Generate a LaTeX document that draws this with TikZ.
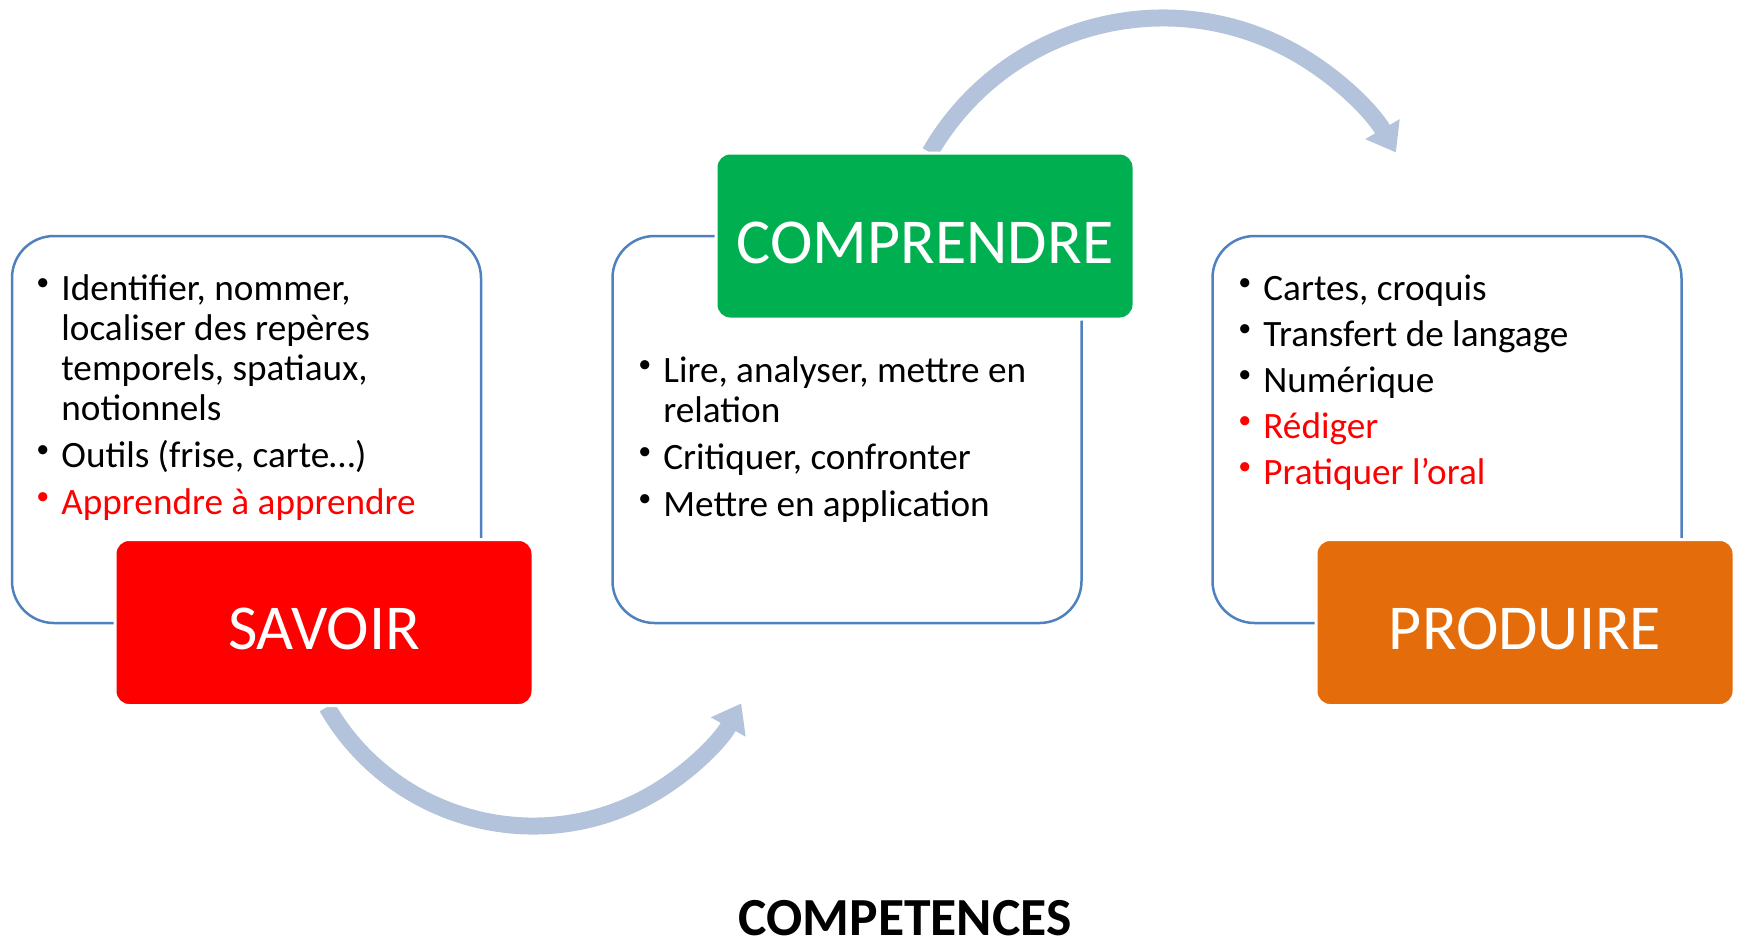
\documentclass[tikz,border=0pt]{standalone}
\usepackage{fontspec}
\setmainfont{Carlito}
\usetikzlibrary{arrows.meta}
\definecolor{boxblue}{HTML}{4F81BD}
\definecolor{arrowgrey}{HTML}{B4C3DC}
\definecolor{savoirred}{HTML}{FF0000}
\definecolor{compgreen}{HTML}{00B050}
\definecolor{prodorange}{HTML}{E46C0A}
\newcommand{\bul}{\leavevmode\llap{\raisebox{5pt}{\fontsize{13}{13}\selectfont •}\hspace{6pt}}}
\begin{document}
\begin{tikzpicture}[x=0.5pt,y=-0.5pt,
  outlinebox/.style={draw=boxblue, line width=1.25pt, rounded corners=21pt, fill=white, minimum width=234.5pt, minimum height=193.5pt, inner sep=0pt},
  labelbox/.style={draw=white, line width=1.5pt, rounded corners=7pt, minimum width=209pt, minimum height=83pt, inner sep=0pt, text=white, font=\fontsize{32}{38}\selectfont, text height=27pt, text depth=0pt},
  listtext/.style={anchor=base west, inner sep=0pt, font=\fontsize{18.6}{20}\selectfont},
  cyclearrow/.style={draw=arrowgrey, line width=8.5pt, -{Triangle[width=19pt,length=13.5pt]}}]
\useasboundingbox (0,0) rectangle (1737,950);

% curved arrows (behind the boxes)
\coordinate (toparcstart) at (930,152.5);
\draw[cyclearrow] (toparcstart) arc[start angle=210, end angle=330, radius=269];
\coordinate (botarcstart) at (327,707);
\draw[cyclearrow] (botarcstart) arc[start angle=150, end angle=29, radius=238];

% outline boxes
\node[outlinebox] (savoirbox) at (246.5,429.5) {};
\node[outlinebox] (compbox) at (847,429.5) {};
\node[outlinebox] (prodbox) at (1447,429.5) {};

% lists
\node[listtext] (savoirlist) at (61,300) {\parbox[t]{240pt}{\raggedright
\bul Identifier, nommer,\\ localiser des repères\\ temporels, spatiaux,\\ notionnels\\[3.5pt]
\bul Outils (frise, carte…)\\[3.5pt]
\color{savoirred}\bul Apprendre à apprendre}};

\node[listtext] (complist) at (663,382) {\parbox[t]{240pt}{\raggedright
\bul Lire, analyser, mettre en\\ relation\\[3.5pt]
\bul Critiquer, confronter\\[3.5pt]
\bul Mettre en application}};

\node[listtext] (prodlist) at (1263,300) {\parbox[t]{240pt}{\raggedright
\bul Cartes, croquis\\[3pt]
\bul Transfert de langage\\[3pt]
\bul Numérique\\[3pt]
{\color{savoirred}\bul Rédiger}\\[3pt]
{\color{savoirred}\bul Pratiquer l’oral}}};

% label boxes
\node[labelbox, fill=savoirred] (savoir) at (324,622.5) {SAVOIR};
\node[labelbox, fill=compgreen] (comprendre) at (925,236) {COMPRENDRE};
\node[labelbox, fill=prodorange] (produire) at (1525,622.5) {PRODUIRE};

% title
\node[anchor=base, inner sep=0pt, font=\bfseries\fontsize{26.8}{30}\selectfont] (title) at (905,935) {COMPETENCES};
\end{tikzpicture}
\end{document}
